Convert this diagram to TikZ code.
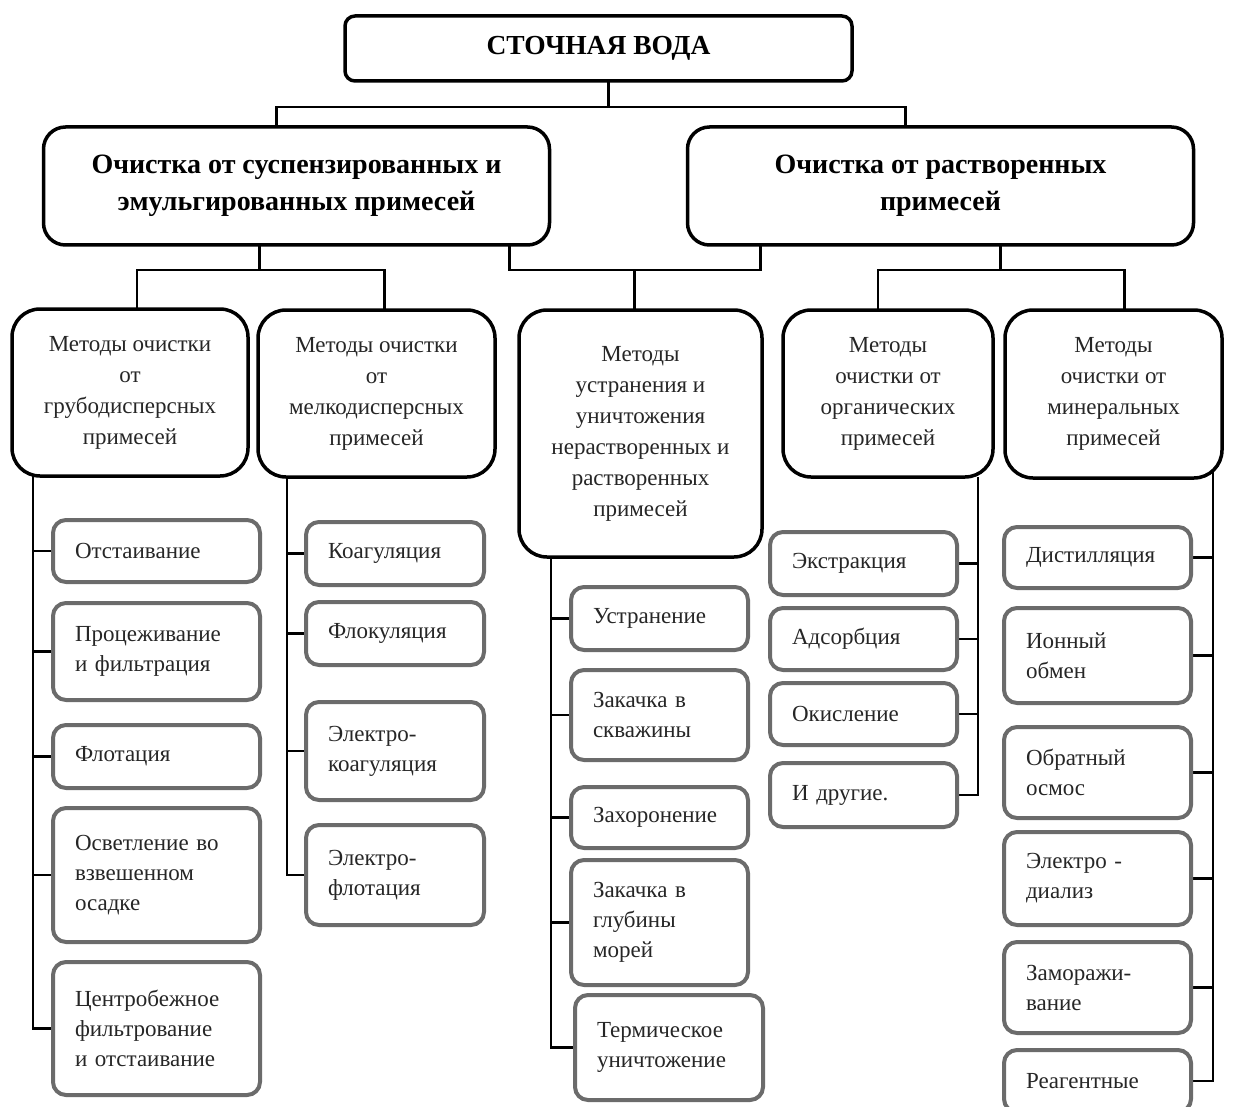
\documentclass[tikz,border=0pt]{standalone}
\usepackage{fontspec}
\setmainfont{Liberation Serif}
\usetikzlibrary{positioning, calc, backgrounds}
\tikzset{
  rootbox/.style   = {draw=black, line width=3.5pt, fill=white, rounded corners=10pt},
  groupbox/.style  = {draw=black, line width=3.5pt, fill=white, rounded corners=22pt},
  methodbox/.style = {draw=black, line width=3.5pt, fill=white, rounded corners=28pt},
  leafbox/.style   = {draw=black!58, line width=4pt, fill=white, rounded corners=13pt},
}

\begin{document}
\begin{tikzpicture}[x=1pt, y=-1pt,
    every node/.style={inner sep=0pt, outer sep=0pt},
    root/.style  ={rootbox, font=\fontsize{27.5}{33}\selectfont\bfseries,
                   minimum width=507pt, minimum height=65pt},
    group/.style ={groupbox, align=center, font=\fontsize{28}{37}\selectfont\bfseries,
                   minimum width=506pt, minimum height=118pt},
    method/.style={methodbox, align=center, font=\fontsize{23}{31}\selectfont, text=black!85},
    leaf/.style  ={leafbox, align=left, inner xsep=22pt,
                   font=\fontsize{23}{30}\selectfont, text=black!85},
    leafA/.style ={leaf, text width=163pt},
    leafB/.style ={leaf, text width=134pt},
    leafC/.style ={leaf, text width=133pt},
    leafD/.style ={leaf, text width=143pt},
    leafE/.style ={leaf, text width=143pt},
    link/.style  ={draw=black, line width=2.5pt}
  ]
  \useasboundingbox (0,0) rectangle (1233,1107);

  %% --- Top and the two groups -------------------------------------------
  \node[root] (water) at (598.5,48.5) {СТОЧНАЯ ВОДА};
  \node[group] (susp) at (296.5,186)
      {Очистка от суспензированных и\\эмульгированных примесей};
  \node[group] (diss) at (940.5,186)
      {Очистка от растворенных\\примесей};

  %% --- Method boxes -----------------------------------------------------
  \node[method, minimum width=236pt, minimum height=167pt] (coarse) at (130,392.5)
      {Методы очистки\\от\\грубодисперсных\\примесей};
  \node[method, minimum width=237pt, minimum height=167pt] (fine) at (376.5,393.5)
      {Методы очистки\\от\\мелкодисперсных\\примесей};
  \node[method, minimum width=243pt, minimum height=247pt] (remove) at (640.5,433.5)
      {Методы\\устранения и\\уничтожения\\нерастворенных и\\растворенных\\примесей};
  \node[method, minimum width=210pt, minimum height=167pt] (organic) at (888,393.5)
      {Методы\\очистки от\\органических\\примесей};
  \node[method, minimum width=217pt, minimum height=168pt] (mineral) at (1113.5,394)
      {Методы\\очистки от\\минеральных\\примесей};

  %% --- Coarse impurities ------------------------------------------------
  \node[leafA, minimum height=62pt]  (a1) at (156.5,551)    {Отстаивание};
  \node[leafA, minimum height=97pt]  (a2) at (156.5,651.5)  {Процеживание\\и фильтрация};
  \node[leafA, minimum height=63pt]  (a3) at (156.5,756.5)  {Флотация};
  \node[leafA, minimum height=134pt] (a4) at (156.5,875)    {Осветление во\\взвешенном\\осадке};
  \node[leafA, minimum height=133pt] (a5) at (156.5,1028.5) {Центробежное\\фильтрование\\и отстаивание};

  %% --- Fine impurities --------------------------------------------------
  \node[leafB, minimum height=63pt]  (b1) at (395,553.5) {Коагуляция};
  \node[leafB, minimum height=63pt]  (b2) at (395,633.5) {Флокуляция};
  \node[leafB, minimum height=98pt]  (b3) at (395,751)   {Электро-\\коагуляция};
  \node[leafB, minimum height=100pt] (b4) at (395,875)   {Электро-\\флотация};

  %% --- Removal and destruction ------------------------------------------
  \node[leafC, minimum height=63pt]  (c1) at (659.5,618.5) {Устранение};
  \node[leafC, minimum height=90pt]  (c2) at (659.5,715)   {Закачка в\\скважины};
  \node[leafC, minimum height=61pt]  (c3) at (659.5,817.5) {Захоронение};
  \node[leafC, minimum height=125pt] (c4) at (659.5,922.5) {Закачка в\\глубины\\морей};
  \node[leaf, text width=144pt, minimum height=105pt] (c5) at (669,1047.5)
      {Термическое\\уничтожение};

  %% --- Organic impurities -----------------------------------------------
  \node[leafD, minimum height=63pt] (d1) at (863.5,563.5) {Экстракция};
  \node[leafD, minimum height=62pt] (d2) at (863.5,639)   {Адсорбция};
  \node[leafD, minimum height=62pt] (d3) at (863.5,714)   {Окисление};
  \node[leafD, minimum height=64pt] (d4) at (863.5,795)   {И другие.};

  %% --- Mineral impurities -----------------------------------------------
  \node[leafE, minimum height=61pt] (e1) at (1097.5,557.5) {Дистилляция};
  \node[leafE, minimum height=95pt] (e2) at (1097.5,655.5) {Ионный\\обмен};
  \node[leafE, minimum height=91pt] (e3) at (1097.5,772.5) {Обратный\\осмос};
  \node[leafE, minimum height=93pt] (e4) at (1097.5,878.5) {Электро -\\диализ};
  \node[leafE, minimum height=91pt] (e5) at (1097.5,987.5) {Заморажи-\\вание};
  \node[leafE, minimum height=62pt] (e6) at (1097.5,1081)  {Реагентные};

  %% --- Connectors (behind the boxes) ------------------------------------
  \begin{pgfonlayer}{background}
    % water -> groups
    \coordinate (rootfoot) at ([xshift=10pt]water.south);
    \coordinate (row1) at ([yshift=-26pt]water.south);
    \coordinate (susptop) at ([xshift=-20pt]susp.north);
    \coordinate (disstop) at ([xshift=-35pt]diss.north);
    \draw[link] (rootfoot) -- (rootfoot |- row1);
    \draw[link] (susptop) |- (row1) -| (disstop);

    % groups -> methods
    \coordinate (row2) at ([yshift=-25pt]susp.south);
    \coordinate (suspfoot) at ([xshift=-37pt]susp.south);
    \coordinate (coarsetop) at ([xshift=7pt]coarse.north);
    \coordinate (finetop) at ([xshift=8pt]fine.north);
    \draw[link] (suspfoot) -- (suspfoot |- row2);
    \draw[link] (coarsetop) |- (row2) -| (finetop);

    \coordinate (suspside) at ([xshift=-40pt]susp.south east);
    \coordinate (dissside) at ([xshift=73pt]diss.south west);
    \coordinate (removetop) at ([xshift=-6pt]remove.north);
    \draw[link] (suspside) |- (dissside |- row2) -- (dissside);
    \draw[link] (removetop) -- (removetop |- row2);

    \coordinate (dissfoot) at ([xshift=60pt]diss.south);
    \coordinate (organictop) at ([xshift=-10pt]organic.north);
    \coordinate (mineraltop) at ([xshift=11pt]mineral.north);
    \draw[link] (dissfoot) -- (dissfoot |- row2);
    \draw[link] (organictop) |- (dissfoot |- row2) -| (mineraltop);

    % methods -> leaves
    \coordinate (spineA) at ([xshift=21pt]coarse.south west);
    \draw[link] (spineA) |- (a5.west);
    \foreach \n in {a1,a2,a3,a4}
      \draw[link] (\n.west) -- (\n.west -| spineA);

    \coordinate (spineB) at ([xshift=29pt]fine.south west);
    \draw[link] (spineB) |- (b4.west);
    \foreach \n in {b1,b2,b3}
      \draw[link] (\n.west) -- (\n.west -| spineB);

    \coordinate (spineC) at ([xshift=32pt]remove.south west);
    \draw[link] (spineC) |- (c5.west);
    \foreach \n in {c1,c2,c3,c4}
      \draw[link] (\n.west) -- (\n.west -| spineC);

    \coordinate (spineD) at ([xshift=-15pt]organic.south east);
    \draw[link] (spineD) |- (d4.east);
    \foreach \n in {d1,d2,d3}
      \draw[link] (\n.east) -- (\n.east -| spineD);

    \coordinate (spineE) at ([xshift=-9pt,yshift=8pt]mineral.south east);
    \draw[link] (spineE) |- (e6.east);
    \foreach \n in {e1,e2,e3,e4,e5}
      \draw[link] (\n.east) -- (\n.east -| spineE);
  \end{pgfonlayer}
\end{tikzpicture}
\end{document}
